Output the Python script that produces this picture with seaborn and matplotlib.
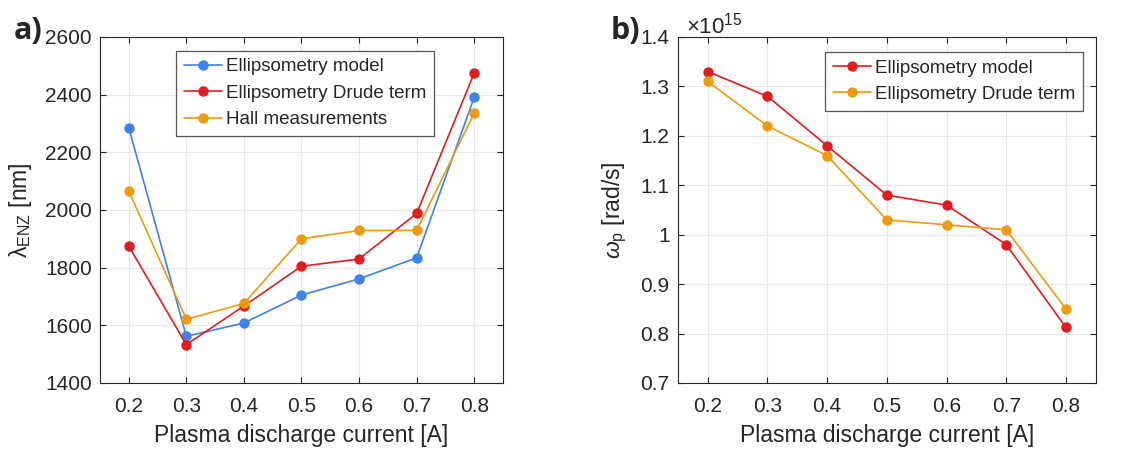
import matplotlib
matplotlib.use("Agg")
import matplotlib.pyplot as plt
import seaborn as sns
import pandas as pd
from matplotlib.ticker import FuncFormatter, FixedLocator

current = [0.2, 0.3, 0.4, 0.5, 0.6, 0.7, 0.8]

# panel a) lambda_ENZ [nm]
lam_model = [2286, 1562, 1608, 1705, 1761, 1834, 2391]
lam_drude = [1875, 1533, 1667, 1805, 1830, 1988, 2475]
lam_hall = [2066, 1621, 1676, 1900, 1929, 1929, 2336]

# panel b) omega_p [x1e15 rad/s]
wp_model = [1.33, 1.28, 1.18, 1.08, 1.06, 0.98, 0.8125]
wp_drude = [1.31, 1.22, 1.16, 1.03, 1.02, 1.01, 0.85]

names_a = ["Ellipsometry model", "Ellipsometry Drude term", "Hall measurements"]
names_b = ["Ellipsometry model", "Ellipsometry Drude term"]

BLUE = "#3d82ee"
RED = "#e31c1f"
ORANGE = "#ef9a10"

sns.set_style("ticks")
plt.rcParams["font.family"] = ["Liberation Sans", "DejaVu Sans"]
plt.rcParams["mathtext.fontset"] = "custom"
plt.rcParams["mathtext.rm"] = "Liberation Sans"
plt.rcParams["mathtext.it"] = "Liberation Sans:italic"
plt.rcParams["mathtext.bf"] = "Liberation Sans:bold"

df_a = pd.DataFrame({
    "x": current * 3,
    "y": lam_model + lam_drude + lam_hall,
    "s": [names_a[0]] * 7 + [names_a[1]] * 7 + [names_a[2]] * 7,
})
df_b = pd.DataFrame({
    "x": current * 2,
    "y": wp_model + wp_drude,
    "s": [names_b[0]] * 7 + [names_b[1]] * 7,
})

fig = plt.figure(figsize=(11.45, 4.49), dpi=100)
ax1 = fig.add_axes([0.0873, 0.147, 0.352, 0.7706])
ax2 = fig.add_axes([0.592, 0.147, 0.365, 0.7706])

line_kw = dict(marker="o", markersize=7.5, linewidth=1.2, markeredgewidth=0)

sns.lineplot(data=df_a, x="x", y="y", hue="s", palette=[BLUE, RED, ORANGE],
             ax=ax1, **line_kw)
sns.lineplot(data=df_b, x="x", y="y", hue="s", palette=[RED, ORANGE],
             ax=ax2, **line_kw)

fmt = FuncFormatter(lambda v, p: "%g" % round(v, 6))

for ax in (ax1, ax2):
    ax.set_xlim(0.15, 0.85)
    ax.xaxis.set_major_locator(FixedLocator(current))
    ax.xaxis.set_major_formatter(fmt)
    ax.grid(True, color="#e6e6e6", linewidth=0.8)
    ax.set_axisbelow(True)
    for sp in ax.spines.values():
        sp.set_visible(True)
        sp.set_color("#262626")
        sp.set_linewidth(0.8)
    ax.tick_params(direction="in", top=True, right=True, length=4,
                   width=0.8, color="#262626", labelsize=15)
    ax.tick_params(axis="x", pad=10)
    ax.tick_params(axis="y", pad=6)
    ax.set_xlabel("Plasma discharge current [A]", fontsize=16.5, labelpad=6)

ax1.set_ylim(1400, 2600)
ax1.yaxis.set_major_locator(FixedLocator(range(1400, 2601, 200)))
ax1.set_ylabel("λ$_{\\rm ENZ}$ [nm]", fontsize=16.5, labelpad=8)

ax2.set_ylim(0.7, 1.4)
ax2.yaxis.set_major_locator(FixedLocator([0.7, 0.8, 0.9, 1.0, 1.1, 1.2, 1.3, 1.4]))
ax2.yaxis.set_major_formatter(fmt)
ax2.set_ylabel(r"$\omega_{\rm p}$ [rad/s]", fontsize=16.5, labelpad=8)
ax2.text(0.02, 0.997, r"$\times10^{15}$", transform=ax2.transAxes,
         fontsize=16, ha="left", va="bottom")

leg_kw = dict(title=None, fontsize=13.5, frameon=True, fancybox=False,
              edgecolor="#555555", framealpha=1, handlelength=2.05,
              handletextpad=0.2, borderpad=0.4, labelspacing=0.5,
              borderaxespad=0)
l1 = ax1.legend(loc="upper left", bbox_to_anchor=(0.189, 0.96), **leg_kw)
l2 = ax2.legend(loc="upper right", bbox_to_anchor=(0.969, 0.957), **leg_kw)
for l in (l1, l2):
    l.get_frame().set_linewidth(0.9)

fig.text(0.012, 0.93, "a)", fontsize=22, fontweight="bold",
         family=["Open Sans", "DejaVu Sans"], va="center")
fig.text(0.533, 0.93, "b)", fontsize=22, fontweight="bold",
         family=["Open Sans", "DejaVu Sans"], va="center")

fig.savefig("out.png", dpi=100)
